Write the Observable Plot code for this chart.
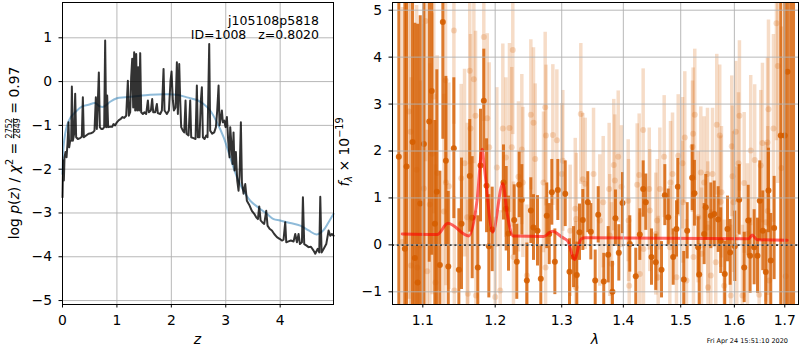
<!DOCTYPE html>
<html><head><meta charset="utf-8">
<script src="https://cdn.jsdelivr.net/npm/d3@7"></script>
<script src="https://cdn.jsdelivr.net/npm/@observablehq/plot@0.6"></script>
<style>
body{margin:0;background:#fff;}
#fig{position:relative;width:800px;height:350px;background:#fff;font-family:"DejaVu Sans",sans-serif;}
#lp{position:absolute;left:0;top:0;width:340px;height:350px;}
#rp{position:absolute;left:340px;top:0;width:460px;height:350px;}
#fig svg{overflow:visible;}
</style></head>
<body><div id="fig"><div id="lp"></div><div id="rp"></div></div>
<script>
// ---------- left panel: p(z) ----------
const zTicks = [0, 1, 2, 3, 4];
const logpTicks = [-5, -4, -3, -2, -1, 0, 1];
const pzZ = [
 0,0.012,0.025,0.037,0.055,0.074,0.092,0.110,0.123,0.141,
 0.159,0.172,0.190,0.214,0.233,0.251,0.282,0.325,0.355,0.374,
 0.392,0.435,0.478,0.521,0.558,0.588,0.613,0.631,0.650,0.668,
 0.686,0.711,0.741,0.766,0.784,0.803,0.821,0.839,0.876,0.913,
 0.938,0.968,0.999,1.036,1.072,1.103,1.134,1.170,1.201,1.219,
 1.244,1.262,1.281,1.299,1.317,1.336,1.354,1.373,1.391,1.409,
 1.428,1.446,1.477,1.507,1.538,1.569,1.587,1.624,1.648,1.667,
 1.703,1.734,1.752,1.795,1.826,1.857,1.875,1.918,1.955,1.985,
 2.004,2.028,2.047,2.077,2.102,2.120,2.145,2.163,2.181,2.212,
 2.237,2.261,2.279,2.316,2.347,2.365,2.408,2.445,2.469,2.488,
 2.518,2.543,2.561,2.580,2.610,2.641,2.665,2.696,2.714,2.751,
 2.788,2.819,2.843,2.868,2.886,2.911,2.929,2.947,2.972,2.996,
 3.021,3.045,3.070,3.082,3.100,3.125,3.143,3.162,3.186,3.211,
 3.235,3.254,3.278,3.297,3.327,3.358,3.388,3.438,3.480,3.523,
 3.560,3.591,3.615,3.640,3.670,3.707,3.744,3.768,3.805,3.848,
 3.891,3.940,3.989,4.032,4.062,4.093,4.112,4.154,4.197,4.246,
 4.277,4.308,4.338,4.363,4.400,4.418,4.442,4.479,4.522,4.565,
 4.614,4.645,4.688,4.718,4.737,4.761,4.798,4.847,4.890,4.920,
 4.951,4.982];
const pzLogP = [
 -2.64,-1.80,-2.26,-1.73,-1.61,-1.73,-1.42,-0.93,-1.50,-1.35,
 -1.35,-0.11,-1.35,-1.19,-0.28,-1.27,-1.31,-1.29,-1.26,-0.36,
 -1.27,-1.23,-1.19,-1.18,-1.16,-1.12,-0.36,-1.08,-0.43,0.21,
 -1.04,-1.08,-1.08,-1.04,0.94,-1.04,-0.32,-1.04,-1.03,-1.03,
 -0.97,-1.00,-0.93,-0.88,-0.85,-0.81,-0.83,-0.78,0.02,-0.78,
 -0.70,0.10,0.52,-0.59,0.67,-0.66,0.63,-0.66,0.33,-0.66,
 0.65,-0.70,-0.74,-0.70,-0.74,-0.43,-0.70,-0.66,-0.40,-0.70,
 -0.70,-0.51,-0.72,-0.74,-0.66,0.29,-0.66,-0.74,-0.66,0.02,
 0.23,-0.43,-0.66,-0.59,0.44,-0.74,0.40,-0.43,-1.04,-1.12,
 -1.16,-0.43,-1.19,-1.23,-0.43,-1.27,-1.29,-1.31,-0.09,-1.27,
 -1.27,-0.43,-0.13,-1.27,-1.31,-1.23,-1.27,0.86,-1.12,-1.19,
 -1.16,-1.04,-0.66,-0.09,-1.00,-0.81,-0.66,-0.93,-0.89,-1.04,
 -0.81,-1.35,-1.73,-1.04,-1.35,-1.88,-1.16,-2.03,-1.61,-2.26,
 -2.49,-2.15,-0.93,-2.30,-2.56,-2.34,-2.72,-2.83,-2.95,-3.02,
 -3.10,-3.14,-2.85,-3.17,-3.21,-3.25,-2.95,-3.29,-3.36,-3.40,
 -3.48,-3.55,-3.59,-3.63,-3.61,-3.21,-3.67,-3.65,-3.63,-3.65,
 -3.48,-3.67,-3.48,-3.71,-3.67,-2.64,-3.71,-3.74,-3.78,-3.77,
 -3.86,-3.93,-3.82,-3.90,-2.63,-3.90,-3.82,-3.71,-3.40,-3.52,
 -3.48,-3.52];
const smoothZ = [0,0.018,0.049,0.092,0.153,0.233,0.355,0.478,0.600,0.692,
 0.766,0.876,0.999,1.152,1.305,1.612,1.918,2.102,2.286,2.469,
 2.592,2.714,2.837,2.960,3.082,3.205,3.327,3.450,3.603,3.756,
 3.879,3.999,4.185,4.369,4.522,4.675,4.798,4.890,4.982];
const smoothLogP = [-2.11,-1.50,-1.19,-0.97,-0.81,-0.70,-0.57,-0.53,-0.49,-0.57,
 -0.57,-0.46,-0.38,-0.36,-0.34,-0.30,-0.29,-0.30,-0.36,-0.42,
 -0.51,-0.66,-0.93,-1.27,-1.73,-2.18,-2.49,-2.72,-2.88,-3.02,
 -3.14,-3.17,-3.23,-3.29,-3.40,-3.49,-3.39,-3.21,-3.02];

// ---------- right panel: spectrum ----------
const lamTicks = [1.1, 1.2, 1.3, 1.4, 1.5, 1.6, 1.7];
const fluxTicks = [-1, 0, 1, 2, 3, 4, 5];
const darkWave = [
 1.0687,1.0765,1.0787,1.0865,1.0895,1.0931,1.0966,1.1014,1.1085,1.1119,
 1.1160,1.1187,1.1228,1.1268,1.1309,1.1342,1.1418,1.1487,1.1524,1.1639,
 1.1673,1.1752,1.1790,1.1837,1.1876,1.1909,1.1957,1.2121,1.2160,1.2194,
 1.2278,1.2316,1.2352,1.2391,1.2466,1.2526,1.2566,1.2627,1.2677,1.2768,
 1.2806,1.2846,1.2893,1.2939,1.3055,1.3122,1.3186,1.3238,1.3281,1.3334,
 1.3414,1.3463,1.3534,1.3583,1.3674,1.3747,1.3818,1.3868,1.3924,1.3986,
 1.4109,1.4211,1.4280,1.4338,1.4383,1.4482,1.4557,1.4658,1.4716,1.4776,
 1.4865,1.4924,1.4948,1.5055,1.5117,1.5208,1.5250,1.5318,1.5337,1.5429,
 1.5459,1.5553,1.5617,1.5692,1.5740,1.5816,1.5868,1.5919,1.6008,1.6093,
 1.6190,1.6268,1.6306,1.6385,1.6451,1.6496,1.6556,1.6616,1.6670,1.6716,
 1.6784,1.6918,1.7000,1.7055,1.7120,1.7180];
const darkFlux = [
 1.88,-0.08,1.67,2.19,-0.28,-0.80,0.88,2.15,2.63,3.28,
 0.45,1.13,-0.43,4.75,1.79,-0.46,2.06,-0.53,0.45,1.47,
 0.58,-0.48,1.69,3.07,1.26,-0.03,0.33,1.33,0.77,0.24,
 0.53,-0.36,1.28,0.96,-0.76,0.73,0.37,0.30,-0.72,0.62,
 0.23,1.12,-0.36,1.17,1.09,-0.57,-0.26,-0.64,0.27,0.53,
 0.91,0.28,-0.76,0.64,-0.78,-0.21,-1.00,0.57,-0.17,0.89,
 0.02,-0.67,0.22,1.19,0.91,-0.26,-0.37,-0.53,1.06,0.59,
 -0.26,0.34,1.24,-0.74,0.30,1.43,1.10,-0.05,-0.63,0.23,
 0.80,0.62,0.66,0.54,0.09,-0.62,0.34,-0.16,-0.03,0.96,
 -0.48,0.52,-0.23,-0.05,-0.23,0.94,0.30,-0.58,1.16,-0.33,
 0.36,2.33,2.33,3.69,6.5,-2.0];
const darkErr = [
 6,6,5,4.5,5,5.5,4,4,3,3.5,
 2.2,2.6,2.0,2.5,1.8,1.6,1.5,1.3,1.4,1.2,
 1.3,1.1,1.2,1.1,1.0,1.1,0.9,0.8,0.9,0.8,
 0.75,0.8,0.7,0.75,0.8,0.7,0.7,0.75,0.7,0.7,
 0.65,0.7,0.7,0.65,0.7,0.7,0.65,0.7,0.6,0.65,
 0.65,0.6,0.65,0.6,0.6,0.6,0.65,0.6,0.6,0.65,
 0.6,0.6,0.55,0.6,0.6,0.6,0.6,0.6,0.65,0.6,
 0.6,0.6,0.6,0.6,0.6,0.7,0.7,0.65,0.65,0.65,
 0.7,0.7,0.7,0.7,0.7,0.7,0.7,0.7,0.75,0.75,
 0.75,0.75,0.8,0.8,0.8,0.85,0.85,0.9,0.9,1.0,
 1.1,5,5,6,9,9];
const lightWave = [
 1.0731,1.0817,1.0839,1.0845,1.0918,1.0927,1.0970,1.1014,1.1036,1.1058,
 1.1093,1.1125,1.1146,1.1169,1.1192,1.1282,1.1305,1.1310,1.1350,1.1419,
 1.1425,1.1520,1.1566,1.1604,1.1612,1.1639,1.1649,1.1696,1.1720,1.1725,
 1.1837,1.1886,1.1914,1.2001,1.2024,1.2073,1.2111,1.2155,1.2208,1.2242,
 1.2257,1.2267,1.2341,1.2391,1.2406,1.2466,1.2526,1.2566,1.2592,1.2718,
 1.2744,1.2750,1.2756,1.2862,1.2924,1.3001,1.3017,1.3133,1.3213,1.3220,
 1.3229,1.3302,1.3334,1.3372,1.3507,1.3609,1.3665,1.3763,1.3773,1.3802,
 1.3840,1.3857,1.3914,1.3969,1.4082,1.4088,1.4099,1.4235,1.4269,1.4280,
 1.4338,1.4343,1.4443,1.4453,1.4557,1.4581,1.4599,1.4628,1.4705,1.4805,
 1.4817,1.4853,1.4924,1.4955,1.5032,1.5038,1.5074,1.5105,1.5214,1.5226,
 1.5232,1.5256,1.5318,1.5367,1.5380,1.5429,1.5491,1.5496,1.5500,1.5553,
 1.5585,1.5646,1.5665,1.5721,1.5740,1.5753,1.5805,1.5931,1.5950,1.5963,
 1.5983,1.6027,1.6046,1.6079,1.6098,1.6156,1.6190,1.6254,1.6318,1.6396,
 1.6484,1.6516,1.6550,1.6616,1.6650,1.6655,1.6670,1.6684,1.6770,1.6831,
 1.6857,1.6932,1.7020];
const lightFlux = [
 0.06,2.84,2.41,-0.44,1.60,-0.48,-0.01,1.20,4.77,-0.56,
 0.86,1.94,3.16,-0.80,1.53,0.71,3.51,1.33,1.25,4.57,
 -0.97,1.42,1.74,0.59,-1.04,3.71,2.48,3.53,2.75,-1.08,
 4.43,2.70,2.08,-1.11,1.65,-0.97,2.48,1.86,2.49,2.08,
 4.15,-0.26,1.45,2.03,1.33,-0.65,2.77,2.60,1.83,1.33,
 2.93,-0.48,2.33,2.34,2.23,1.51,1.79,0.30,0.77,-0.90,
 0.55,2.79,1.40,1.30,1.51,0.52,0.91,1.19,0.20,-0.40,
 1.70,1.37,1.88,1.24,0.94,0.52,-0.87,1.28,1.49,-0.62,
 2.45,-0.09,1.19,0.73,0.23,0.52,-0.69,1.19,1.88,-0.05,
 1.33,1.51,-0.69,1.90,1.74,0.91,2.29,-0.76,2.09,2.37,
 -0.26,2.77,0.59,1.54,-0.19,1.33,1.51,0.37,-0.90,-0.65,
 1.51,-0.37,2.56,2.33,0.92,1.12,-0.87,-1.08,2.10,1.46,
 0.91,2.41,0.16,1.74,2.75,-1.08,1.32,0.23,2.01,1.81,
 -1.06,1.69,2.17,0.48,2.18,0.72,2.89,-0.76,2.48,4.72,
 3.81,1.64,-0.67];
const lightErr = [
 5,4,4,4,3.5,3.5,3.5,3.5,3,3,
 3,3,2.5,2.5,2.5,2.5,2.2,2.2,2.2,2,
 2,2,2,2,2,2,2,1.8,1.8,1.8,
 1.8,1.8,1.8,1.7,1.7,1.7,1.8,1.7,1.8,1.7,
 1.8,1.6,1.6,1.6,1.6,1.5,1.6,1.6,1.6,1.5,
 1.6,1.5,1.5,1.5,1.5,1.5,1.5,1.4,1.5,1.4,
 1.4,1.5,1.4,1.4,1.4,1.4,1.4,1.4,1.3,1.3,
 1.4,1.4,1.4,1.3,1.3,1.3,1.3,1.3,1.3,1.3,
 1.3,1.3,1.3,1.3,1.3,1.3,1.3,1.3,1.3,1.3,
 1.3,1.3,1.3,1.3,1.4,1.3,1.4,1.3,1.4,1.4,
 1.4,1.4,1.4,1.4,1.4,1.4,1.4,1.4,1.4,1.4,
 1.4,1.4,1.5,1.5,1.4,1.4,1.4,1.5,1.5,1.5,
 1.5,1.5,1.5,1.5,1.6,1.5,1.5,1.5,1.6,1.6,
 1.6,1.6,1.7,1.7,1.8,1.8,1.9,1.8,2,2.5,
 2.5,3,3];
const modelWave = [1.0731,1.1192,1.1336,1.1626,1.1743,1.1814,1.1846,1.1966,1.2111,1.2175,
 1.2263,1.2723,1.2852,1.3008,1.3096,1.3201,1.3308,1.3377,1.6247,1.6279,1.6345,1.6444,1.7049];
const modelFlux = [0.23,0.22,0.46,0.19,0.97,2.04,1.64,0.27,1.31,0.66,
 0.19,0.18,0.29,0.16,0.08,-0.31,0.13,0.15,0.13,0.13,0.21,0.11,0.10];

const specColor = "#d55e00";
const gridColor = "#b0b0b0";
const minus = d => (d < 0 ? "\u2212" : "") + Math.abs(d);

const pz = pzZ.map((z, i) => ({z, v: pzLogP[i]}));
const smooth = smoothZ.map((z, i) => ({z, v: smoothLogP[i]}));
const dark = darkWave.map((w, i) => ({w, f: darkFlux[i], e: darkErr[i]}));
const light = lightWave.map((w, i) => ({w, f: lightFlux[i], e: lightErr[i]}));
const model = modelWave.map((w, i) => ({w, f: modelFlux[i]}));

const baseStyle = {fontFamily: "DejaVu Sans", fontSize: "13.9px", color: "black", background: "white", overflow: "visible"};

const left = Plot.plot({
  width: 340, height: 350,
  marginLeft: 62, marginRight: 7, marginTop: 2, marginBottom: 46,
  style: baseStyle,
  x: {domain: [0, 4.98], ticks: zTicks, tickFormat: minus, tickSize: 3.5, tickPadding: 7, label: null},
  y: {domain: [-5.09, 1.806], ticks: logpTicks, tickFormat: minus, tickSize: 3.5, tickPadding: 7, label: null},
  marks: [
    Plot.ruleX(zTicks, {stroke: gridColor, strokeWidth: 0.9}),
    Plot.ruleY(logpTicks, {stroke: gridColor, strokeWidth: 0.9}),
    Plot.line(smooth, {x: "z", y: "v", stroke: "#1f77b4", strokeOpacity: 0.5, strokeWidth: 2, curve: "catmull-rom"}),
    Plot.line(pz, {x: "z", y: "v", stroke: "black", strokeOpacity: 0.8, strokeWidth: 2}),
    Plot.frame({stroke: "black", strokeWidth: 1})
  ]
});

const right = Plot.plot({
  width: 460, height: 350,
  marginLeft: 52, marginRight: 2, marginTop: 2, marginBottom: 46,
  style: baseStyle,
  x: {type: "log", domain: [1.0606, 1.7283], ticks: lamTicks, tickFormat: d => d.toFixed(1), tickSize: 3.5, tickPadding: 7, label: null},
  y: {domain: [-1.27, 5.164], ticks: fluxTicks, tickFormat: minus, tickSize: 3.5, tickPadding: 7, label: null},
  marks: [
    Plot.ruleX(light, {x: "w", y1: d => d.f - d.e, y2: d => d.f + d.e, stroke: specColor, strokeOpacity: 0.22, strokeWidth: 3.5, clip: true}),
    Plot.dot(light, {x: "w", y: "f", r: 3, fill: specColor, fillOpacity: 0.22, clip: true}),
    Plot.ruleX(dark, {x: "w", y1: d => d.f - d.e, y2: d => d.f + d.e, stroke: specColor, strokeOpacity: 0.82, strokeWidth: 3, clip: true}),
    Plot.dot(dark, {x: "w", y: "f", r: 3, fill: specColor, fillOpacity: 0.9, clip: true}),
    Plot.line(model, {x: "w", y: "f", stroke: "red", strokeOpacity: 0.6, strokeWidth: 3, curve: "monotone-x"}),
    Plot.ruleY([0], {stroke: "black", strokeWidth: 2, strokeDasharray: "2,2.8"}),
    Plot.ruleX(lamTicks, {stroke: gridColor, strokeWidth: 0.9}),
    Plot.ruleY(fluxTicks, {stroke: gridColor, strokeWidth: 0.9}),
    Plot.frame({stroke: "black", strokeWidth: 1})
  ]
});

document.getElementById("lp").append(left);
document.getElementById("rp").append(right);

// ---------- text annotations ----------
const L = d3.select(left);
L.append("text").attr("x", 319).attr("y", 24.5).attr("text-anchor", "end").attr("font-size", 12.5)
  .text("j105108p5818");
L.append("text").attr("x", 319).attr("y", 39).attr("text-anchor", "end").attr("font-size", 12.5)
  .style("white-space", "pre").text("ID=1008   z=0.8020");
L.append("text").attr("x", 197.5).attr("y", 344).attr("text-anchor", "middle").attr("font-style", "italic")
  .attr("font-size", 14).text("z");

// y label: log p(z) / chi^2 = 2752/2849 = 0.97  (single text, fraction via tspans)
const ylab = L.append("text").attr("transform", "translate(18.5,153) rotate(-90)")
  .attr("text-anchor", "middle").attr("font-size", 13.9).style("white-space", "pre");
ylab.append("tspan").text("log ");
ylab.append("tspan").attr("font-style", "italic").text("p");
ylab.append("tspan").text("(");
ylab.append("tspan").attr("font-style", "italic").text("z");
ylab.append("tspan").text(") / ");
ylab.append("tspan").attr("font-style", "italic").text("\u03c7");
ylab.append("tspan").attr("dy", -5.5).attr("font-size", 9.7).text("2");
ylab.append("tspan").attr("dy", 5.5).text(" = ");
ylab.append("tspan").attr("dy", -6.2).attr("font-size", 8).style("text-decoration", "underline").text("2752");
ylab.append("tspan").attr("dx", -20.35).attr("dy", 7.9).attr("font-size", 8).text("2849");
ylab.append("tspan").attr("dy", -1.7).text(" = 0.97");

const R = d3.select(right);
R.append("text").attr("x", 255).attr("y", 344).attr("text-anchor", "middle").attr("font-style", "italic")
  .attr("font-size", 14).text("\u03bb");
R.append("text").attr("x", 448).attr("y", 343).attr("text-anchor", "end").attr("font-size", 6.5)
  .text("Fri Apr 24 15:51:10 2020");
const ty = R.append("text").attr("transform", "translate(8.5,152) rotate(-90)")
  .attr("text-anchor", "middle").attr("font-size", 13.9).style("white-space", "pre");
ty.append("tspan").attr("font-style", "italic").text("f");
ty.append("tspan").attr("font-style", "italic").attr("font-size", 9.7).attr("dy", 3).text("\u03bb");
ty.append("tspan").attr("dy", -3).text(" \u00d7 10");
ty.append("tspan").attr("font-size", 9.7).attr("dy", -5.5).text("\u221219");
</script>
</body></html>
